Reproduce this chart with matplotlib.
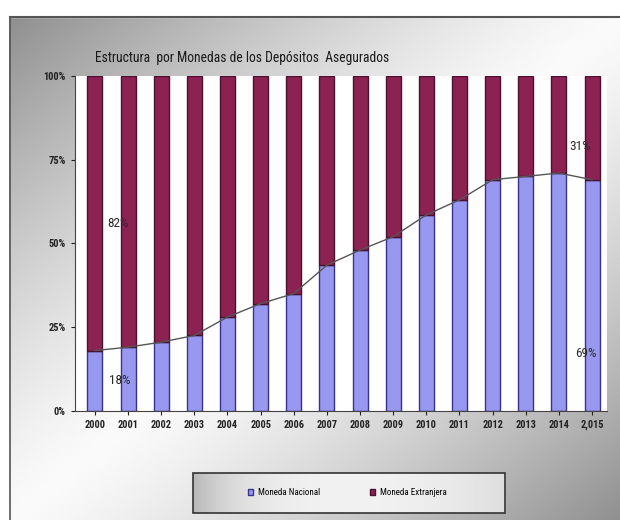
import numpy as np
import matplotlib.pyplot as plt
from matplotlib.patches import Rectangle

# Share of insured deposits by currency (%)
years = ["2000", "2001", "2002", "2003", "2004", "2005", "2006", "2007",
         "2008", "2009", "2010", "2011", "2012", "2013", "2014", "2,015"]
nacional = [18, 19, 20.5, 22.5, 28, 32, 35, 43.5, 48, 52, 58.5, 63, 69, 70, 71, 69]
extranjera = [100 - v for v in nacional]

FONT = "Roboto Condensed"

fig = plt.figure(figsize=(6.2, 5.2), dpi=100)

# grey diagonal shading behind the chart frame
bg = fig.add_axes([0, 0, 1, 1], zorder=0)
h, w = 200, 240
yy, xx = np.mgrid[0:h, 0:w]
s = xx / w + yy / h
shade = 0.98 - 0.42 * np.clip(np.abs(s - 1.0), 0, 1) ** 1.3
bg.imshow(shade, cmap="gray", vmin=0, vmax=1, extent=[0.015, 1.0, 0, 0.968],
          aspect="auto", interpolation="bilinear")
bg.set_xlim(0, 1)
bg.set_ylim(0, 1)
bg.add_patch(Rectangle((0, 0.968), 1, 0.032, color="white", zorder=2))
bg.plot([0.016, 0.016], [0, 0.968], color="#555555", lw=1.2)
bg.plot([0.016, 1.0], [0.968, 0.968], color="#555555", lw=1.5)

# legend box with its own light gradient
lx0, lx1, ly0, ly1 = 0.311, 0.815, 0.0135, 0.0904
lg = np.tile(np.linspace(0, 1, 100), (10, 1))
lg = 0.97 - 0.25 * np.exp(-lg * 6) - 0.1 * lg ** 3
bg.imshow(lg, cmap="gray", vmin=0, vmax=1, extent=[lx0, lx1, ly0, ly1],
          aspect="auto", interpolation="bilinear", zorder=3)
bg.add_patch(Rectangle((lx0, ly0), lx1 - lx0, ly1 - ly0, fill=False,
                       edgecolor="#333333", lw=1.2, zorder=4))
bg.set_xlim(0, 1)
bg.set_ylim(0, 1)
bg.axis("off")

ax = fig.add_axes([0.121, 0.21, 0.858, 0.644], zorder=1)
x = np.arange(len(years))
ax.bar(x, nacional, width=0.45, color="#9898f0", edgecolor="#34348a", lw=1.0,
       label="Moneda Nacional")
ax.bar(x, extranjera, width=0.45, bottom=nacional, color="#8c2252",
       edgecolor="#4a1030", lw=1.0, label="Moneda Extranjera")
ax.plot(x, nacional, color="#555555", lw=1.0)

ax.set_xlim(-0.6, 15.45)
ax.set_ylim(0, 100)
ax.set_yticks([0, 25, 50, 75, 100])
ax.set_yticklabels(["0%", "25%", "50%", "75%", "100%"])
ax.set_xticks(x)
ax.set_xticklabels(years)
ax.tick_params(axis="both", labelsize=7.5, length=3, colors="#222222")
for lbl in ax.get_xticklabels() + ax.get_yticklabels():
    lbl.set_fontweight("bold")
    lbl.set_fontfamily(FONT)
for sp in ["top", "right"]:
    ax.spines[sp].set_visible(False)
ax.spines["left"].set_color("#444444")
ax.spines["bottom"].set_color("#444444")

# value labels for first and last year
lab = dict(fontsize=9.5, color="#2a2a2a", ha="center", va="center", family=FONT)
ax.text(0.7, 100 - 44, f"{extranjera[0]:.0f}%", **lab)
ax.text(0.75, 9, f"{nacional[0]:.0f}%", **lab)
ax.text(14.8, 17, f"{nacional[-1]:.0f}%", **lab)
ax.text(14.65, 79, f"{extranjera[-1]:.0f}%", **lab)

fig.text(0.153, 0.888, "Estructura  por Monedas de los Depósitos  Asegurados",
         fontsize=9.8, color="#1a1a1a", family=FONT, ha="left", va="center")

leg = fig.legend(loc="center left", bbox_to_anchor=(0.4, 0.052), ncol=2,
                 frameon=False, handlelength=0.6, handleheight=0.6,
                 handletextpad=0.5, columnspacing=5.5, borderpad=0,
                 borderaxespad=0, prop={"family": FONT, "size": 6.5})
leg.set_zorder(5)

fig.savefig("out.png", dpi=100)
